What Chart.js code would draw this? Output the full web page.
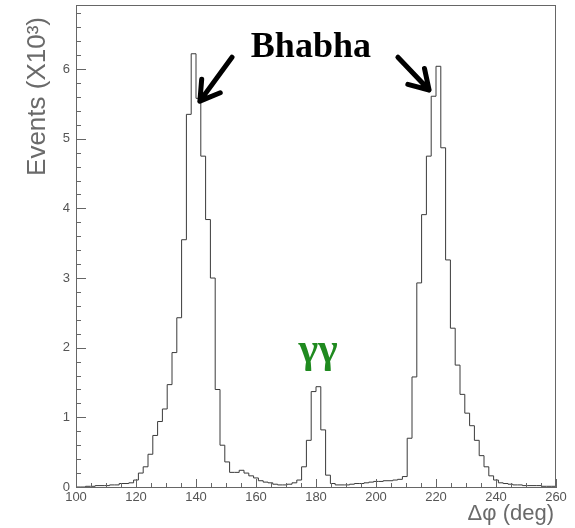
<!DOCTYPE html>
<html>
<head>
<meta charset="utf-8">
<script src="https://cdn.jsdelivr.net/npm/chart.js@4/dist/chart.umd.min.js"></script>
<style>
  html, body { margin: 0; padding: 0; background: #ffffff; }
  #wrap { width: 575px; height: 528px; position: relative; }
</style>
</head>
<body>
<div id="wrap"><canvas id="c" width="575" height="528"></canvas></div>
<script>
// ---- data (thousands of events per 1.6 deg bin, 100 bins from 100 to 260 deg) ----
const xMin = 100;
const xMax = 260;
const binWidth = 1.6;
const events = [
  0.00, 0.00, 0.01, 0.01, 0.02, 0.02, 0.02, 0.03, 0.03, 0.05,
  0.05, 0.06, 0.10, 0.20, 0.29, 0.47, 0.74, 0.94, 1.12, 1.47,
  1.93, 2.43, 3.55, 5.35, 6.22, 5.58, 4.75, 3.84, 3.00, 1.40,
  0.60, 0.36, 0.21, 0.21, 0.24, 0.20, 0.16, 0.13, 0.09, 0.07,
  0.06, 0.04, 0.03, 0.03, 0.04, 0.06, 0.10, 0.29, 0.67, 1.37,
  1.44, 0.82, 0.17, 0.05, 0.03, 0.03, 0.03, 0.04, 0.05, 0.05,
  0.06, 0.07, 0.08, 0.08, 0.09, 0.09, 0.10, 0.11, 0.15, 0.70,
  1.58, 2.93, 3.91, 4.75, 5.61, 6.04, 4.87, 3.26, 2.28, 1.75,
  1.33, 1.06, 0.88, 0.67, 0.45, 0.29, 0.16, 0.10, 0.06, 0.05,
  0.04, 0.03, 0.03, 0.02, 0.02, 0.02, 0.02, 0.01, 0.01, 0.01
];
const xTickLabels = [100, 120, 140, 160, 180, 200, 220, 240, 260];
const yTickLabels = [0, 1, 2, 3, 4, 5, 6];
const yMax = 6.92;

const yTitle = 'Events (X10³)';
const xTitle = 'Δφ (deg)';
const peakLabel = 'Bhabha';
const ggLabel = 'γγ';

// annotation anchors in data units
const bhabhaPos = [178.3, 6.30];
const ggPos = [180.7, 1.95];
const arrowLeft = [[152.0, 6.17], [141.3, 5.54]];
const arrowRight = [[207.3, 6.17], [217.7, 5.70]];

// histogram outline points (left bin edges, stepped)
const points = events.map((v, k) => ({ x: xMin + binWidth * k, y: v }));
points.push({ x: xMax, y: 0 });

const AXIS = '#666666';
const TXT = '#555555';

const framePlugin = {
  id: 'frame',
  afterDraw(chart) {
    const ctx = chart.ctx;
    const a = chart.chartArea;
    const xs = chart.scales.x, ys = chart.scales.y;
    ctx.save();
    ctx.strokeStyle = AXIS;
    ctx.lineWidth = 1;
    ctx.beginPath();
    ctx.moveTo(a.left, a.top + 0.5); ctx.lineTo(a.right, a.top + 0.5);
    ctx.moveTo(a.right - 0.5, a.top); ctx.lineTo(a.right - 0.5, a.bottom);
    ctx.stroke();
    // x ticks (inward)
    ctx.beginPath();
    for (let d = xMin; d <= xMax; d += 5) {
      const px = Math.round(xs.getPixelForValue(d)) + 0.5;
      const len = (d % 20 === 0) ? 8 : 4;
      ctx.moveTo(px, a.bottom); ctx.lineTo(px, a.bottom - len);
    }
    // y ticks (inward)
    for (let i = 0; i <= 34; i++) {
      const v = i * 0.2;
      const py = Math.round(ys.getPixelForValue(v)) + 0.5;
      const len = (i % 5 === 0) ? 10 : 5;
      ctx.moveTo(a.left, py); ctx.lineTo(a.left + len, py);
    }
    ctx.stroke();

    // axis titles
    ctx.fillStyle = '#6a6a6a';
    ctx.font = '300 26px "Liberation Sans", Arial, sans-serif';
    ctx.save();
    ctx.translate(38, 17);
    ctx.rotate(-Math.PI / 2);
    ctx.textAlign = 'right';
    ctx.textBaseline = 'middle';
    ctx.fillText(yTitle, 0, 0);
    ctx.restore();
    ctx.font = '300 22px "Liberation Sans", Arial, sans-serif';
    ctx.textAlign = 'right';
    ctx.textBaseline = 'middle';
    ctx.fillText(xTitle, a.right - 2, 514);

    // annotations
    ctx.fillStyle = '#000000';
    ctx.font = 'bold 36px "Liberation Serif", "Times New Roman", serif';
    ctx.textAlign = 'center';
    ctx.textBaseline = 'middle';
    ctx.fillText(peakLabel, xs.getPixelForValue(bhabhaPos[0]), ys.getPixelForValue(bhabhaPos[1]));
    ctx.fillStyle = '#1f8a1f';
    ctx.font = 'bold 42px "Liberation Serif", "Times New Roman", serif';
    ctx.fillText(ggLabel, xs.getPixelForValue(ggPos[0]), ys.getPixelForValue(ggPos[1]));

    const drawArrow = (seg) => {
      const x0 = xs.getPixelForValue(seg[0][0]), y0 = ys.getPixelForValue(seg[0][1]);
      const x1 = xs.getPixelForValue(seg[1][0]), y1 = ys.getPixelForValue(seg[1][1]);
      const ang = Math.atan2(y1 - y0, x1 - x0);
      const hl = 22, ha = 0.55;
      ctx.strokeStyle = '#000000';
      ctx.lineWidth = 5;
      ctx.lineCap = 'round';
      ctx.lineJoin = 'round';
      ctx.beginPath();
      ctx.moveTo(x0, y0); ctx.lineTo(x1, y1);
      ctx.moveTo(x1 - hl * Math.cos(ang - ha), y1 - hl * Math.sin(ang - ha));
      ctx.lineTo(x1, y1);
      ctx.lineTo(x1 - hl * Math.cos(ang + ha), y1 - hl * Math.sin(ang + ha));
      ctx.stroke();
    };
    drawArrow(arrowLeft);
    drawArrow(arrowRight);
    ctx.restore();
  }
};

new Chart(document.getElementById('c'), {
  type: 'line',
  data: {
    datasets: [{
      data: points,
      stepped: true,
      borderColor: '#3a3a3a',
      borderWidth: 1,
      pointRadius: 0,
      fill: false,
      tension: 0
    }]
  },
  options: {
    responsive: false,
    animation: false,
    events: [],
    layout: { padding: { top: 5, right: 19, left: 0, bottom: 0 } },
    plugins: { legend: { display: false }, tooltip: { enabled: false } },
    scales: {
      x: {
        type: 'linear',
        min: xMin, max: xMax,
        afterBuildTicks: (s) => { s.ticks = xTickLabels.map(v => ({ value: v })); },
        ticks: { font: { family: '"Liberation Sans", Arial, sans-serif', size: 13 }, color: TXT, padding: 3, autoSkip: false, maxRotation: 0 },
        grid: { display: false, drawTicks: false },
        border: { display: true, color: AXIS, width: 1 },
        afterFit: (s) => { s.height = 41; s.paddingLeft = 0; s.paddingRight = 0; }
      },
      y: {
        type: 'linear',
        min: 0, max: yMax,
        afterBuildTicks: (s) => { s.ticks = yTickLabels.map(v => ({ value: v })); },
        ticks: { font: { family: '"Liberation Sans", Arial, sans-serif', size: 13 }, color: TXT, padding: 6 },
        grid: { display: false, drawTicks: false },
        border: { display: true, color: AXIS, width: 1 },
        afterFit: (s) => { s.width = 76; s.paddingTop = 0; s.paddingBottom = 0; }
      }
    }
  },
  plugins: [framePlugin]
});
</script>
</body>
</html>
